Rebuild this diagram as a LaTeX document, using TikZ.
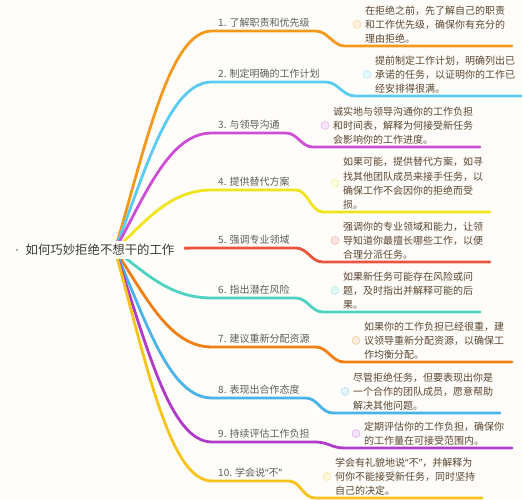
\documentclass[tikz,border=0pt]{standalone}
\usepackage{fontspec}
\setmainfont{Noto Sans CJK SC}
\newfontfamily\quoteFont{Noto Sans}
\newcommand{\qL}{{\quoteFont “}}
\newcommand{\qR}{{\quoteFont ”}}
\usepackage{tikz}
\usetikzlibrary{calc}
\definecolor{bgPaper}{HTML}{FEFDF9}
\definecolor{rootText}{HTML}{3A3A3A}
\definecolor{labelGray}{HTML}{5E5E5E}
\definecolor{detailBrown}{HTML}{5A4632}
\definecolor{brOrange}{HTML}{F39A1E}
\definecolor{brCyan}{HTML}{5BCBEF}
\definecolor{brMagenta}{HTML}{CC4FD6}
\definecolor{brYellow}{HTML}{F2E41C}
\definecolor{brRed}{HTML}{E9553F}
\definecolor{brTeal}{HTML}{4ED3C2}
\definecolor{brDeepOrange}{HTML}{F07F14}
\definecolor{brBlue}{HTML}{4AB3E8}
\definecolor{brPurple}{HTML}{B13BC9}
\definecolor{brGold}{HTML}{F6C41A}
\tikzset{
  branchLine/.style={line width=2.8pt, line cap=round},
  rootBox/.style={fill=bgPaper, text=rootText, inner xsep=10pt, inner ysep=3pt,
                  font=\fontsize{12.4}{15}\selectfont},
  labelText/.style={anchor=south west, text=labelGray, inner xsep=6pt, inner ysep=3pt,
                    font=\fontsize{10}{14}\selectfont},
  detailText/.style={anchor=south west, text=detailBrown, align=left, inner xsep=0pt,
                     inner ysep=2.5pt, font=\fontsize{10}{14.2}\selectfont},
  bulletDot/.style={circle, minimum size=8pt, inner sep=0pt, line width=0.5pt},
}

\begin{document}
\begin{tikzpicture}[x=1pt, y=-1pt]
  \fill[bgPaper] (0,0) rectangle (523,500);
  \useasboundingbox (0,0) rectangle (523,500);
  \coordinate (hub) at (115,250);

  % branch: number / label line y / lower line y / detail x / line end x / colour / label / detail
  \foreach \i/\yl/\yd/\xd/\xe/\col/\lab/\det in {
    1/31/46/365/512/brOrange/{1. 了解职责和优先级}/{在拒绝之前，先了解自己的职责\\和工作优先级，确保你有充分的\\理由拒绝。},
    2/82/96/375/521/brCyan/{2. 制定明确的工作计划}/{提前制定工作计划，明确列出已\\承诺的任务，以证明你的工作已\\经安排得很满。},
    3/133/147/333/480/brMagenta/{3. 与领导沟通}/{诚实地与领导沟通你的工作负担\\和时间表，解释为何接受新任务\\会影响你的工作进度。},
    4/190/212/343/490/brYellow/{4. 提供替代方案}/{如果可能，提供替代方案，如寻\\找其他团队成员来接手任务，以\\确保工作不会因你的拒绝而受\\损。},
    5/248/262/343/490/brRed/{5. 强调专业领域}/{强调你的专业领域和能力，让领\\导知道你最擅长哪些工作，以便\\合理分派任务。},
    6/298/312/343/480/brTeal/{6. 指出潜在风险}/{如果新任务可能存在风险或问\\题，及时指出并解释可能的后\\果。},
    7/347/362/364/512/brDeepOrange/{7. 建议重新分配资源}/{如果你的工作负担已经很重，建\\议领导重新分配资源，以确保工\\作均衡分配。},
    8/398/413/353/500/brBlue/{8. 表现出合作态度}/{尽管拒绝任务，但要表现出你是\\一个合作的团队成员，愿意帮助\\解决其他问题。},
    9/442/448/364/512/brPurple/{9. 持续评估工作负担}/{定期评估你的工作负担，确保你\\的工作量在可接受范围内。},
    10/481/498/335/482/brGold/{10. 学会说\qL 不\qR}/{学会有礼貌地说\qL 不\qR ，并解释为\\何你不能接受新任务，同时坚持\\自己的决定。}} {
    \pgfmathsetmacro{\rise}{(\yl-250)*0.5}
    \node[labelText] (lab\i) at (212,\yl) {\lab};
    \node[detailText] (det\i) at (\xd,\yd) {\det};
    \node[bulletDot, draw=\col!45, fill=\col!15] (dot\i) at ($(det\i.west)+(-8,0)$) {};
    \coordinate (bend\i) at ({\xd-20},\yd);
    \coordinate (end\i) at (\xe,\yd);
    \draw[branchLine, \col] (hub) .. controls +(32,\rise) and +(-42,0) .. (lab\i.south west)
      -- (lab\i.south east) .. controls +(12,0) and +(-12,0) .. (bend\i) -- (end\i);
  }

  \node[rootBox] (root) at (100,250) {如何巧妙拒绝不想干的工作};
  \fill[labelGray!70] ([xshift=1.5pt]root.west) circle[radius=1.1pt];
\end{tikzpicture}
\end{document}
